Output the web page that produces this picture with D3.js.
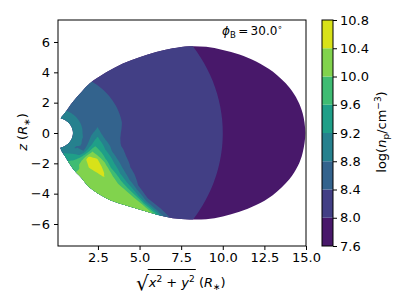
<!DOCTYPE html>
<html>
<head>
<meta charset="utf-8">
<script src="https://cdn.jsdelivr.net/npm/d3@7"></script>
<style>
body{margin:0;background:#fff;}
text{font-family:"DejaVu Sans",sans-serif;fill:#000;}
</style>
</head>
<body>
<svg id="chart" width="407" height="305"></svg>
<script>
// contour levels of log(n_p)
var levels=[7.6,8.0,8.4,8.8,9.2,9.6,10.0,10.4,10.8];
// polar grid: radius (R*) and angle from the x axis (deg)
var rGrid=[1,1.5,2,2.5,3,3.5,4,5,6,7,8,10,12,16];
var thetaGrid=[-90,-80,-70,-60,-55,-50,-45,-42.5,-40,-37.5,-35,-30,-25,-20,-15,-10,-5,0,10,20,30,40,50,60,70,80,90];
// radial profile above the equator
var upperProfile=[9.00,8.82,8.70,8.60,8.52,8.46,8.40,8.30,8.22,8.15,8.10,8.00,7.92,7.80];
// lower half, one row per angle (same order as thetaGrid)
var lowerRows=[
  [9.00,9.10,9.40,9.70,9.90,10.00,10.00,10.00,10.00,9.90,9.80,9.60,9.40,9.20],
  [9.00,9.15,9.45,9.75,9.95,10.00,10.00,10.00,10.00,9.90,9.80,9.60,9.40,9.20],
  [9.00,9.25,9.62,9.92,10.02,10.05,10.05,10.00,10.00,9.90,9.80,9.60,9.40,9.20],
  [9.00,9.15,9.55,9.92,10.08,10.12,10.10,10.05,10.00,9.90,9.80,9.60,9.40,9.20],
  [9.00,9.05,9.48,10.05,10.22,10.22,10.18,10.12,10.05,9.95,9.85,9.60,9.40,9.20],
  [9.00,8.92,9.35,10.22,10.38,10.30,10.28,10.18,10.08,10.00,9.90,9.60,9.40,9.20],
  [9.00,8.83,9.12,10.38,10.58,10.48,10.42,10.20,10.15,10.10,10.00,9.60,9.40,9.20],
  [9.00,8.80,9.05,10.42,10.62,10.55,10.36,10.05,10.03,10.05,10.00,9.00,8.60,8.30],
  [9.00,8.78,8.95,10.42,10.60,10.45,10.20,9.73,9.44,8.89,8.75,8.30,8.10,7.90],
  [9.00,8.79,8.85,10.38,10.52,10.32,10.00,9.38,8.85,8.25,8.20,8.05,7.95,7.82],
  [9.00,8.80,8.78,10.28,10.42,10.15,9.60,9.03,8.40,8.22,8.15,8.00,7.92,7.80],
  [9.00,8.81,8.78,10.03,9.85,9.55,9.22,8.50,8.26,8.17,8.11,8.00,7.92,7.80],
  [9.00,8.81,8.78,9.82,9.58,9.25,8.82,8.33,8.22,8.15,8.10,8.00,7.92,7.80],
  [9.00,8.81,8.77,9.58,9.30,8.85,8.50,8.28,8.22,8.15,8.10,8.00,7.92,7.80],
  [9.00,8.81,8.76,9.48,9.12,8.65,8.42,8.30,8.22,8.15,8.10,8.00,7.92,7.80],
  [9.00,8.82,8.74,9.35,8.85,8.50,8.38,8.30,8.22,8.15,8.10,8.00,7.92,7.80],
  [9.00,8.82,8.71,9.18,8.62,8.45,8.38,8.30,8.22,8.15,8.10,8.00,7.92,7.80],
  [9.00,8.82,8.68,8.98,8.48,8.43,8.39,8.30,8.22,8.15,8.10,8.00,7.92,7.80],
  [9.00,8.82,8.70,8.78,8.52,8.46,8.40,8.30,8.22,8.15,8.10,8.00,7.92,7.80]
];
// outline of the modelled region
var edgeX=[0.25,0.5,1,1.5,2,3,4,5,6,7,8,9,10,11,12,13,14,14.5,14.8];
var edgeTop=[0.92,1.30,2.06,2.68,3.26,4.00,4.58,5.00,5.34,5.58,5.72,5.68,5.48,5.18,4.72,4.05,3.00,2.15,1.30];
var edgeBot=[-1.00,-1.50,-2.35,-2.95,-3.60,-4.30,-4.72,-5.05,-5.38,-5.62,-5.70,-5.68,-5.50,-5.20,-4.75,-4.10,-3.05,-2.20,-1.30];
var edgeTip=[14.96,0];
var xTicks=[2.5,5,7.5,10,12.5,15];
var yTicks=[-6,-4,-2,0,2,4,6];

var svg=d3.select("#chart");
var x=d3.scaleLinear().domain([0.1,15]).range([58,306]);
var y=d3.scaleLinear().domain([-7.45,7.45]).range([246,20]);
function bandColor(i){ return d3.interpolateViridis(((levels[i]+levels[i+1])/2-levels[0])/(levels[levels.length-1]-levels[0])); }

// grid values, rows = angle
var table=[];
for(var j=0;j<thetaGrid.length;j++){
    table.push(j<lowerRows.length ? lowerRows[j] : upperProfile);
}
var nr=rGrid.length, nt=thetaGrid.length;
var values=new Array(nr*nt);
for(var j=0;j<nt;j++) for(var i=0;i<nr;i++) values[j*nr+i]=table[j][i];

function gridPos(c,arr){
    var u=Math.max(0,Math.min(arr.length-1,c-0.5));
    var k=Math.min(arr.length-2,Math.floor(u));
    return arr[k]+(u-k)*(arr[k+1]-arr[k]);
}
function proj(c){
    var r=gridPos(c[0],rGrid), th=gridPos(c[1],thetaGrid)*Math.PI/180;
    return x(r*Math.cos(th)).toFixed(2)+","+y(r*Math.sin(th)).toFixed(2);
}
function ringPath(ring){
    var s="";
    for(var k=0;k<ring.length;k++){
        var p=ring[k];
        if(k==0){ s+="M"+proj(p); continue; }
        var q=ring[k-1];
        for(var t=1;t<=4;t++){
            s+="L"+proj([q[0]+(p[0]-q[0])*t/4,q[1]+(p[1]-q[1])*t/4]);
        }
    }
    return s+"Z";
}

// clip to the region outline
var outline=[];
edgeX.forEach(function(v,i){ outline.push([v,edgeTop[i]]); });
outline.push(edgeTip);
for(var i=edgeX.length-1;i>=0;i--) outline.push([edgeX[i],edgeBot[i]]);
var outlineLine=d3.line().x(function(d){return x(d[0]);}).y(function(d){return y(d[1]);}).curve(d3.curveCatmullRomClosed);
svg.append("defs").append("clipPath").attr("id","region").append("path").attr("d",outlineLine(outline));

var contours=d3.contours().size([nr,nt]).thresholds(levels.slice(0,-1))(values);
svg.append("g").attr("clip-path","url(#region)")
    .selectAll("path").data(contours).enter().append("path")
    .attr("d",function(d){ return d.coordinates.map(function(poly){ return poly.map(ringPath).join(""); }).join(""); })
    .attr("fill",function(d){ return bandColor(levels.indexOf(d.value)); })
    .attr("fill-rule","evenodd");

// axes
var fmt1=d3.format(".1f");
var gx=svg.append("g").attr("transform","translate(0,246)")
    .call(d3.axisBottom(x).tickValues(xTicks).tickFormat(fmt1).tickSize(4).tickPadding(3));
var gy=svg.append("g").attr("transform","translate(58,0)")
    .call(d3.axisLeft(y).tickValues(yTicks).tickSize(4).tickPadding(4));
[gx,gy].forEach(function(g){
    g.select(".domain").remove();
    g.selectAll("text").attr("font-family","DejaVu Sans").attr("font-size",13).attr("fill","#000");
    g.selectAll("line").attr("stroke","#000");
});
svg.append("rect").attr("x",58).attr("y",20).attr("width",248).attr("height",226)
    .attr("fill","none").attr("stroke","#000").attr("stroke-width",1);

// annotation
var ann=svg.append("text").attr("x",222).attr("y",35).attr("font-size",12);
ann.append("tspan").attr("font-style","italic").text("ϕ");
ann.append("tspan").attr("font-size",8.5).attr("dy",3).text("B");
ann.append("tspan").attr("dy",-3).text("\u2009=\u200930.0");
ann.append("tspan").attr("font-size",8.5).attr("dy",-5).text("∘");

// y label
var yl=svg.append("text").attr("transform","translate(27,132) rotate(-90)").attr("text-anchor","middle").attr("font-size",13);
yl.append("tspan").attr("font-style","italic").text("z");
yl.append("tspan").text("\u00a0(");
yl.append("tspan").attr("font-style","italic").text("R");
yl.append("tspan").attr("font-size",9).attr("dy",3).text("∗");
yl.append("tspan").attr("dy",-3).text(")");

// x label
var xl=svg.append("g");
var px=136, base=287;
var rad=xl.append("text").attr("x",px).attr("y",base+3).attr("font-size",20).text("√");
px+=rad.node().getComputedTextLength();
var rc=xl.append("text").attr("x",px).attr("y",base).attr("font-size",13);
rc.append("tspan").attr("font-style","italic").text("x");
rc.append("tspan").attr("font-size",9).attr("dy",-5).text("2");
rc.append("tspan").attr("dy",5).text("\u00a0+\u00a0");
rc.append("tspan").attr("font-style","italic").text("y");
rc.append("tspan").attr("font-size",9).attr("dy",-5).text("2");
var rw=rc.node().getComputedTextLength();
xl.append("line").attr("x1",px-1).attr("x2",px+rw+1).attr("y1",269.5).attr("y2",269.5).attr("stroke","#000").attr("stroke-width",1);
px+=rw;
var tail=xl.append("text").attr("x",px).attr("y",base).attr("font-size",13);
tail.append("tspan").text("\u00a0(");
tail.append("tspan").attr("font-style","italic").text("R");
tail.append("tspan").attr("font-size",9).attr("dy",3).text("∗");
tail.append("tspan").attr("dy",-3).text(")");

// colorbar
var cy=d3.scaleLinear().domain([levels[0],levels[levels.length-1]]).range([246,20]);
var cb=svg.append("g");
for(var i=0;i<levels.length-1;i++){
    cb.append("rect").attr("x",322).attr("width",11)
        .attr("y",cy(levels[i+1])).attr("height",cy(levels[i])-cy(levels[i+1]))
        .attr("fill",bandColor(i));
}
cb.append("rect").attr("x",322).attr("y",20).attr("width",11).attr("height",226)
    .attr("fill","none").attr("stroke","#000").attr("stroke-width",1);
var gc=svg.append("g").attr("transform","translate(333,0)")
    .call(d3.axisRight(cy).tickValues(levels).tickFormat(fmt1).tickSize(4).tickPadding(3));
gc.select(".domain").remove();
gc.selectAll("text").attr("font-family","DejaVu Sans").attr("font-size",13).attr("fill","#000");
gc.selectAll("line").attr("stroke","#000");

var cl=svg.append("text").attr("transform","translate(386,132) rotate(-90)").attr("text-anchor","middle").attr("font-size",13);
cl.append("tspan").text("log(");
cl.append("tspan").attr("font-style","italic").text("n");
cl.append("tspan").attr("font-size",9).attr("dy",3).text("p");
cl.append("tspan").attr("dy",-3).text("/cm");
cl.append("tspan").attr("font-size",9).attr("dy",-5).text("−3");
cl.append("tspan").attr("dy",5).text(")");
</script>
</body>
</html>
